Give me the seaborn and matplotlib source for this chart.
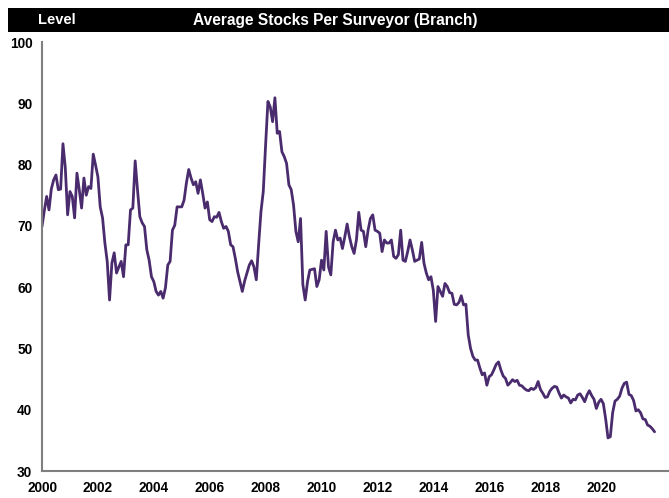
import numpy as np
import pandas as pd
import matplotlib
matplotlib.use("Agg")
import matplotlib.pyplot as plt
import seaborn as sns
from matplotlib.patches import Rectangle

# ---- data (monthly, Jan 2000 - Dec 2021) ----
start_year = 2000
values = [
    69.9, 72.5, 74.8, 72.6, 76.0, 77.5, 78.3, 75.9, 76.0, 83.4, 79.5, 71.8,
    75.6, 74.8, 71.3, 78.6, 75.9, 72.9, 77.8, 75.0, 76.4, 76.1, 81.7, 79.9,
    78.0, 73.1, 71.3, 67.2, 64.2, 57.9, 63.9, 65.6, 62.3, 63.3, 64.2, 61.7,
    66.9, 66.9, 72.6, 72.9, 80.6, 75.9, 71.5, 70.5, 69.9, 66.1, 64.4, 61.7,
    60.9, 59.3, 58.7, 59.3, 58.2, 59.9, 63.6, 64.2, 69.3, 70.1, 73.1, 73.1,
    73.1, 74.2, 77.0, 79.2, 77.8, 76.7, 77.2, 75.3, 77.5, 75.3, 72.9, 73.9,
    71.0, 70.7, 71.5, 71.4, 72.2, 70.7, 69.6, 69.9, 69.1, 66.9, 66.6, 64.7,
    62.5, 60.9, 59.3, 61.0, 62.3, 63.6, 64.3, 63.3, 61.2, 66.9, 72.3, 75.6,
    83.2, 90.3, 89.4, 87.0, 90.9, 85.1, 85.4, 82.1, 81.3, 80.2, 76.7, 75.9,
    73.4, 69.1, 67.4, 71.2, 60.4, 57.9, 60.9, 62.8, 62.9, 63.0, 60.1, 61.2,
    64.4, 62.8, 69.1, 63.3, 62.0, 67.4, 69.3, 67.7, 68.0, 66.3, 68.2, 70.3,
    68.2, 66.6, 65.5, 67.7, 72.2, 69.3, 69.1, 66.6, 69.3, 71.2, 71.8, 69.3,
    69.1, 68.8, 65.8, 67.7, 67.2, 67.2, 67.7, 65.0, 64.7, 65.3, 69.3, 64.4,
    64.2, 65.8, 67.7, 66.1, 64.2, 64.4, 64.6, 67.3, 63.9, 62.3, 61.2, 61.7,
    59.5, 54.4, 60.1, 59.3, 58.5, 60.6, 60.1, 59.1, 59.0, 57.2, 57.1, 57.5,
    58.6, 57.1, 57.2, 52.2, 50.0, 48.7, 48.1, 48.1, 46.8, 45.7, 46.0, 44.0,
    45.4, 45.7, 46.5, 47.4, 47.8, 46.5, 45.5, 45.1, 44.0, 44.4, 44.9, 44.6,
    44.8, 44.0, 43.9, 43.5, 43.2, 43.1, 43.5, 43.3, 43.6, 44.6, 43.3, 42.7,
    42.0, 42.1, 43.0, 43.5, 43.8, 43.7, 42.7, 41.9, 42.4, 42.1, 41.9, 41.1,
    41.7, 41.6, 42.4, 42.6, 42.0, 41.3, 42.4, 43.1, 42.3, 41.7, 40.2, 41.2,
    41.7, 41.0, 38.5, 35.4, 35.6, 39.5, 41.4, 41.7, 42.2, 43.5, 44.3, 44.5,
    42.5, 42.3, 41.5, 39.8, 40.0, 39.5, 38.5, 38.4, 37.5, 37.3, 36.9, 36.4,
]
years = [start_year + i / 12 for i in range(len(values))]
tick_years = [2000, 2002, 2004, 2006, 2008, 2010, 2012, 2014, 2016, 2018, 2020]
y_ticks = [30, 40, 50, 60, 70, 80, 90, 100]
title = "Average Stocks Per Surveyor (Branch)"
left_label = "Level"

df = pd.DataFrame({"year": years, "value": values})

sns.set_theme(style="white")
FONT = ["Liberation Sans Narrow", "Liberation Sans", "DejaVu Sans"]
plt.rcParams["font.family"] = FONT

W, H = 669, 498
fig = plt.figure(figsize=(W / 100, H / 100), dpi=100)
ax = fig.add_axes([42 / W, 1 - 471 / H, (669 - 42) / W, (471 - 42) / H])

sns.lineplot(data=df, x="year", y="value", ax=ax, color="#4a2c6e",
             linewidth=2.0, estimator=None)

ax.set_xlim(2000, 2000 + 627 / 27.95)
ax.set_ylim(30, 100)
ax.set_xticks(tick_years)
ax.set_xticklabels([str(t) for t in tick_years])
ax.set_yticks(y_ticks)
ax.set_yticklabels([str(t) for t in y_ticks])
ax.set_xlabel("")
ax.set_ylabel("")
for lab in ax.get_xticklabels() + ax.get_yticklabels():
    lab.set_fontweight("bold")
    lab.set_fontsize(9.8)
    lab.set_color("black")
ax.tick_params(axis="both", length=0, pad=7)
ax.tick_params(axis="x", pad=7)
for s in ["top", "right"]:
    ax.spines[s].set_visible(False)
for s in ["left", "bottom"]:
    ax.spines[s].set_color("#7f7f7f")
    ax.spines[s].set_linewidth(1.5)
ax.grid(False)

# title bar
fig.patches.append(Rectangle((8 / W, 1 - 32 / H), 1 - 8 / W, 24 / H,
                             transform=fig.transFigure, facecolor="black",
                             edgecolor="none", zorder=0))
fig.text(57 / W, 1 - 20 / H, left_label, color="white", fontsize=10.5,
         fontweight="bold", ha="center", va="center")
fig.text(335 / W, 1 - 20 / H, title, color="white", fontsize=11.2,
         fontweight="bold", ha="center", va="center")

fig.savefig("out.png", dpi=100, facecolor="white")
